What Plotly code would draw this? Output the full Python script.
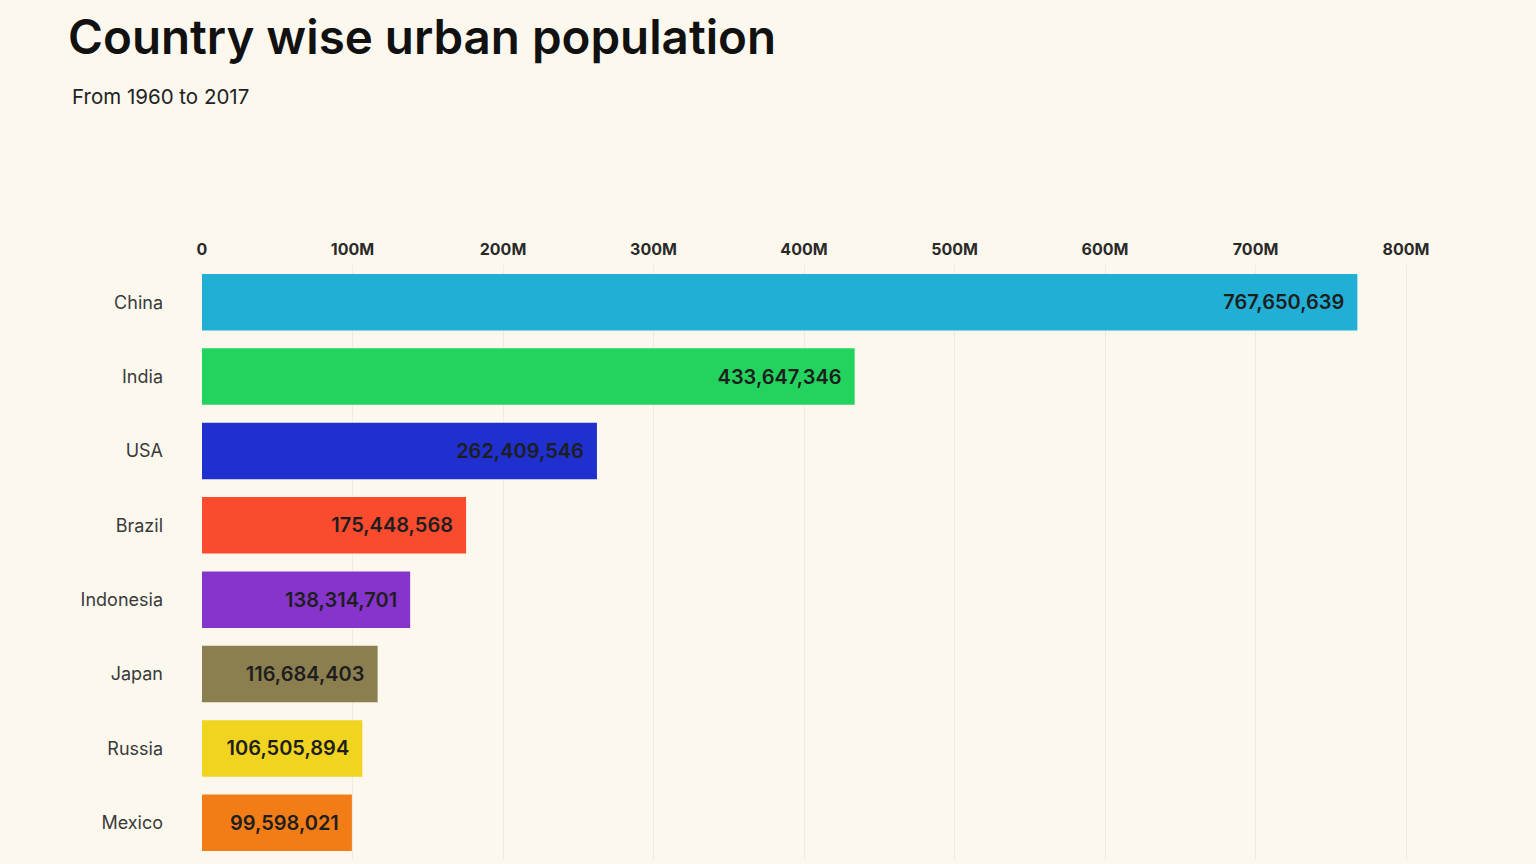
import plotly.graph_objects as go

countries = ["China", "India", "USA", "Brazil", "Indonesia", "Japan", "Russia", "Mexico"]
urban_pop = [767650639, 433647346, 262409546, 175448568, 138314701, 116684403, 106505894, 99598021]
bar_colors = ["#22afd6", "#22d45e", "#1f30cf", "#fa4b2e", "#8734cc", "#8c7f4f", "#f0d41f", "#f27d17"]
tick_vals = [0, 100e6, 200e6, 300e6, 400e6, 500e6, 600e6, 700e6, 800e6]
tick_text = ["0", "100M", "200M", "300M", "400M", "500M", "600M", "700M", "800M"]

BG = "#fcf8ee"
FONT = "Inter, Lato, sans-serif"

fig = go.Figure(go.Bar(
    x=urban_pop,
    y=countries,
    orientation="h",
    marker=dict(color=bar_colors, line=dict(width=0)),
    text=[f"{v:,}\u00a0\u00a0" for v in urban_pop],
    textposition="inside",
    insidetextanchor="end",
    textfont=dict(family=FONT, size=20, color="#1e1e1e", weight=600),
    constraintext="none",
    hoverinfo="skip",
))

fig.update_layout(
    width=1536, height=864,
    paper_bgcolor=BG, plot_bgcolor=BG,
    margin=dict(l=202, r=86, t=265, b=4),
    bargap=0.24,
    showlegend=False,
    title=dict(
        text="Country wise urban population",
        font=dict(family=FONT, size=47.5, color="#111111", weight=600),
        xref="container", yref="container",
        x=68/1536, xanchor="left",
        y=1-37/864, yanchor="middle",
    ),
    annotations=[dict(
        text="From 1960 to 2017",
        xref="paper", yref="paper",
        x=(70-202)/1248, xanchor="left",
        y=(860-97)/595, yanchor="middle",
        showarrow=False,
        font=dict(family=FONT, size=20.5, color="#222222"),
    )],
    xaxis=dict(
        range=[0, 829.2e6],
        side="top",
        tickvals=tick_vals,
        ticktext=tick_text,
        tickfont=dict(family=FONT, size=16, color="#2a2a2a", weight=700),
        showgrid=True,
        gridcolor="#efebe1",
        gridwidth=1,
        zeroline=False,
        showline=False,
        ticks="",
        ticklabelstandoff=6,
        fixedrange=True,
    ),
    yaxis=dict(
        categoryorder="array",
        categoryarray=countries[::-1],
        tickfont=dict(family=FONT, size=18, color="#3a3a3a"),
        showgrid=False,
        zeroline=False,
        showline=False,
        ticks="",
        ticklabelstandoff=38,
        fixedrange=True,
    ),
)

fig.write_html("out.html")
